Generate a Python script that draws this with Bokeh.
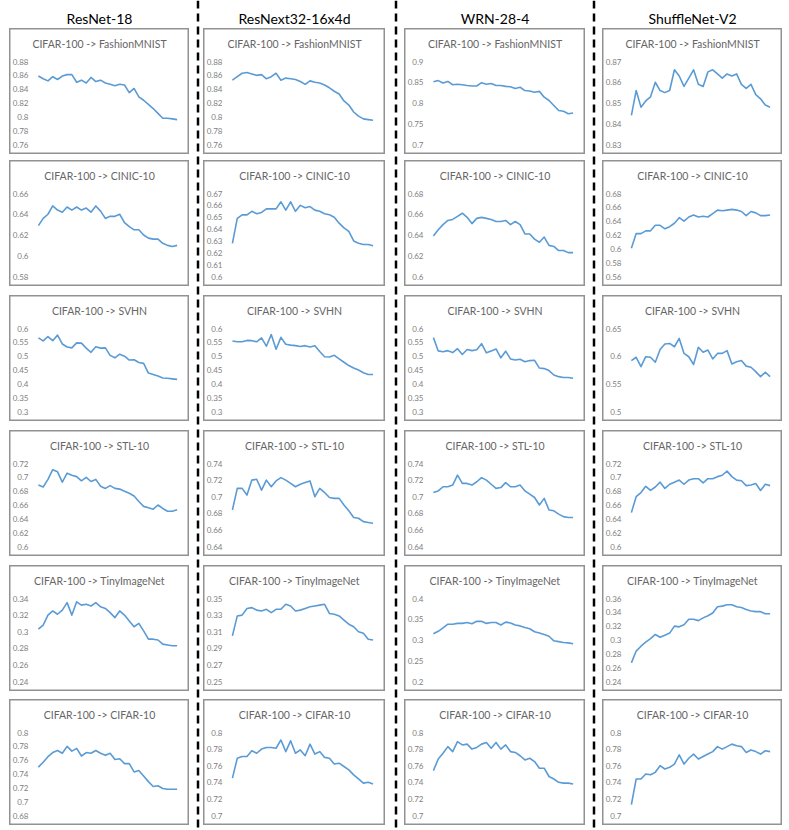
from bokeh.plotting import figure
from bokeh.layouts import row, column
from bokeh.models import (Spacer, Span, Label, FixedTicker, Range1d,
                          NumeralTickFormatter)
from bokeh.embed import file_html
from bokeh.resources import INLINE

models = ["ResNet-18", "ResNext32-16x4d", "WRN-28-4", "ShuffleNet-V2"]
targets = ["FashionMNIST", "CINIC-10", "SVHN", "STL-10", "TinyImageNet", "CIFAR-10"]
source_name = "CIFAR-100"
epochs = list(range(1, 31))

# ---- FashionMNIST ----
r18_fmnist = [0.859, 0.855, 0.852, 0.858, 0.854, 0.859, 0.861, 0.861, 0.850, 0.853,
              0.849, 0.857, 0.851, 0.853, 0.849, 0.847, 0.845, 0.847, 0.846, 0.835,
              0.841, 0.829, 0.824, 0.818, 0.812, 0.805, 0.798, 0.798, 0.797, 0.796]
rx_fmnist = [0.853, 0.858, 0.863, 0.864, 0.862, 0.860, 0.861, 0.855, 0.858, 0.863,
             0.853, 0.856, 0.855, 0.854, 0.851, 0.847, 0.852, 0.850, 0.849, 0.846,
             0.842, 0.837, 0.833, 0.823, 0.817, 0.807, 0.801, 0.797, 0.796, 0.795]
wrn_fmnist = [0.851, 0.854, 0.848, 0.852, 0.844, 0.845, 0.844, 0.842, 0.841, 0.841,
              0.849, 0.845, 0.847, 0.842, 0.842, 0.840, 0.839, 0.835, 0.838, 0.830,
              0.829, 0.826, 0.828, 0.814, 0.806, 0.794, 0.782, 0.780, 0.774, 0.776]
sn_fmnist = [0.844, 0.856, 0.848, 0.851, 0.853, 0.860, 0.856, 0.855, 0.856, 0.866,
             0.863, 0.858, 0.862, 0.866, 0.859, 0.858, 0.865, 0.866, 0.864, 0.862,
             0.864, 0.863, 0.864, 0.859, 0.857, 0.859, 0.854, 0.852, 0.849, 0.848]

# ---- CINIC-10 ----
r18_cinic = [0.629, 0.636, 0.640, 0.648, 0.644, 0.642, 0.647, 0.644, 0.647, 0.644,
             0.646, 0.642, 0.648, 0.643, 0.636, 0.638, 0.638, 0.640, 0.632, 0.628,
             0.625, 0.625, 0.620, 0.617, 0.616, 0.616, 0.612, 0.610, 0.609, 0.610]
rx_cinic = [0.628, 0.649, 0.652, 0.652, 0.655, 0.653, 0.654, 0.657, 0.657, 0.657,
            0.663, 0.656, 0.663, 0.655, 0.660, 0.658, 0.659, 0.656, 0.655, 0.653,
            0.652, 0.650, 0.645, 0.641, 0.638, 0.630, 0.628, 0.627, 0.627, 0.626]
wrn_cinic = [0.639, 0.645, 0.650, 0.654, 0.655, 0.658, 0.661, 0.657, 0.651, 0.656,
             0.657, 0.656, 0.655, 0.653, 0.653, 0.654, 0.650, 0.653, 0.650, 0.641,
             0.641, 0.636, 0.633, 0.638, 0.630, 0.629, 0.625, 0.625, 0.623, 0.623]
sn_cinic = [0.601, 0.622, 0.622, 0.626, 0.626, 0.634, 0.634, 0.629, 0.632, 0.637,
            0.645, 0.640, 0.646, 0.649, 0.646, 0.647, 0.646, 0.651, 0.656, 0.655,
            0.656, 0.657, 0.656, 0.654, 0.648, 0.654, 0.652, 0.648, 0.648, 0.649]

# ---- SVHN ----
r18_svhn = [0.566, 0.555, 0.571, 0.556, 0.576, 0.544, 0.533, 0.530, 0.548, 0.547,
            0.529, 0.514, 0.534, 0.529, 0.530, 0.503, 0.494, 0.507, 0.500, 0.486,
            0.487, 0.477, 0.474, 0.439, 0.434, 0.428, 0.421, 0.420, 0.418, 0.416]
rx_svhn = [0.555, 0.552, 0.552, 0.557, 0.556, 0.552, 0.566, 0.536, 0.578, 0.525,
           0.568, 0.543, 0.540, 0.538, 0.535, 0.538, 0.533, 0.538, 0.517, 0.498,
           0.497, 0.503, 0.490, 0.478, 0.466, 0.457, 0.450, 0.440, 0.434, 0.434]
wrn_svhn = [0.567, 0.519, 0.516, 0.520, 0.513, 0.527, 0.506, 0.524, 0.520, 0.523,
            0.545, 0.512, 0.519, 0.526, 0.494, 0.518, 0.490, 0.486, 0.489, 0.480,
            0.484, 0.485, 0.457, 0.455, 0.448, 0.432, 0.426, 0.423, 0.423, 0.420]
sn_svhn = [0.592, 0.598, 0.581, 0.599, 0.598, 0.589, 0.612, 0.622, 0.623, 0.617,
           0.632, 0.605, 0.599, 0.585, 0.616, 0.607, 0.611, 0.595, 0.605, 0.605,
           0.610, 0.586, 0.590, 0.592, 0.582, 0.580, 0.572, 0.563, 0.571, 0.563]

# ---- STL-10 ----
r18_stl = [0.689, 0.686, 0.697, 0.711, 0.708, 0.693, 0.706, 0.703, 0.701, 0.695,
           0.700, 0.694, 0.697, 0.687, 0.684, 0.688, 0.684, 0.683, 0.680, 0.677,
           0.673, 0.665, 0.658, 0.656, 0.654, 0.660, 0.655, 0.651, 0.651, 0.653]
rx_stl = [0.684, 0.710, 0.710, 0.702, 0.720, 0.721, 0.708, 0.720, 0.712, 0.719,
          0.723, 0.720, 0.716, 0.712, 0.715, 0.717, 0.719, 0.700, 0.710, 0.705,
          0.699, 0.698, 0.698, 0.690, 0.683, 0.675, 0.674, 0.670, 0.669, 0.668]
wrn_stl = [0.705, 0.707, 0.712, 0.712, 0.714, 0.726, 0.716, 0.716, 0.714, 0.718,
           0.723, 0.720, 0.715, 0.710, 0.711, 0.717, 0.712, 0.712, 0.714, 0.707,
           0.703, 0.699, 0.690, 0.698, 0.684, 0.683, 0.679, 0.676, 0.675, 0.675]
sn_stl = [0.649, 0.672, 0.678, 0.687, 0.681, 0.686, 0.693, 0.684, 0.690, 0.693,
          0.696, 0.690, 0.696, 0.698, 0.698, 0.692, 0.698, 0.698, 0.701, 0.703,
          0.709, 0.701, 0.696, 0.695, 0.688, 0.689, 0.691, 0.681, 0.690, 0.688]

# ---- TinyImageNet ----
r18_tiny = [0.303, 0.308, 0.320, 0.325, 0.321, 0.326, 0.335, 0.320, 0.336, 0.332,
            0.333, 0.331, 0.335, 0.330, 0.328, 0.323, 0.317, 0.325, 0.320, 0.313,
            0.306, 0.310, 0.301, 0.291, 0.291, 0.290, 0.285, 0.284, 0.283, 0.283]
rx_tiny = [0.305, 0.329, 0.330, 0.338, 0.339, 0.336, 0.335, 0.337, 0.333, 0.337,
           0.337, 0.343, 0.341, 0.335, 0.336, 0.338, 0.340, 0.341, 0.342, 0.343,
           0.332, 0.331, 0.329, 0.324, 0.319, 0.316, 0.310, 0.308, 0.301, 0.300]
wrn_tiny = [0.315, 0.321, 0.329, 0.338, 0.338, 0.340, 0.340, 0.342, 0.339, 0.345,
            0.345, 0.340, 0.342, 0.342, 0.336, 0.343, 0.341, 0.336, 0.334, 0.330,
            0.327, 0.320, 0.317, 0.313, 0.309, 0.298, 0.296, 0.294, 0.293, 0.291]
sn_tiny = [0.267, 0.284, 0.291, 0.297, 0.302, 0.308, 0.304, 0.307, 0.310, 0.320,
           0.319, 0.322, 0.330, 0.330, 0.328, 0.332, 0.335, 0.339, 0.348, 0.349,
           0.351, 0.351, 0.348, 0.347, 0.344, 0.342, 0.341, 0.341, 0.338, 0.338]

# ---- CIFAR-10 ----
r18_c10 = [0.750, 0.757, 0.765, 0.771, 0.774, 0.770, 0.780, 0.773, 0.777, 0.766,
           0.771, 0.770, 0.774, 0.770, 0.767, 0.770, 0.761, 0.762, 0.755, 0.755,
           0.743, 0.745, 0.737, 0.729, 0.722, 0.723, 0.719, 0.718, 0.718, 0.718]
rx_c10 = [0.745, 0.769, 0.771, 0.771, 0.778, 0.775, 0.780, 0.782, 0.782, 0.781,
          0.791, 0.777, 0.790, 0.775, 0.779, 0.772, 0.786, 0.774, 0.777, 0.770,
          0.769, 0.762, 0.763, 0.759, 0.755, 0.749, 0.744, 0.739, 0.740, 0.738]
wrn_c10 = [0.754, 0.768, 0.775, 0.783, 0.777, 0.789, 0.785, 0.786, 0.780, 0.782,
           0.786, 0.788, 0.781, 0.788, 0.780, 0.785, 0.777, 0.776, 0.772, 0.767,
           0.769, 0.765, 0.757, 0.757, 0.747, 0.744, 0.740, 0.739, 0.739, 0.738]
sn_c10 = [0.713, 0.744, 0.744, 0.750, 0.749, 0.752, 0.760, 0.756, 0.758, 0.762,
          0.773, 0.762, 0.769, 0.774, 0.768, 0.771, 0.774, 0.777, 0.783, 0.780,
          0.783, 0.786, 0.784, 0.783, 0.776, 0.779, 0.777, 0.774, 0.778, 0.777]

# y-axis bounds and tick step per panel (rows = targets, cols = models)
axis_min = [[0.76, 0.76, 0.70, 0.83],
            [0.58, 0.60, 0.60, 0.56],
            [0.30, 0.30, 0.30, 0.50],
            [0.60, 0.64, 0.64, 0.60],
            [0.24, 0.25, 0.20, 0.24],
            [0.68, 0.70, 0.70, 0.70]]
axis_max = [[0.88, 0.88, 0.90, 0.87],
            [0.66, 0.67, 0.68, 0.68],
            [0.60, 0.60, 0.60, 0.65],
            [0.72, 0.74, 0.74, 0.72],
            [0.34, 0.35, 0.40, 0.36],
            [0.80, 0.80, 0.80, 0.80]]
axis_step = [[0.02, 0.02, 0.05, 0.01],
             [0.02, 0.01, 0.02, 0.02],
             [0.05, 0.05, 0.05, 0.05],
             [0.02, 0.02, 0.02, 0.02],
             [0.02, 0.02, 0.05, 0.02],
             [0.02, 0.02, 0.02, 0.02]]

series = [
    [r18_fmnist, rx_fmnist, wrn_fmnist, sn_fmnist],
    [r18_cinic, rx_cinic, wrn_cinic, sn_cinic],
    [r18_svhn, rx_svhn, wrn_svhn, sn_svhn],
    [r18_stl, rx_stl, wrn_stl, sn_stl],
    [r18_tiny, rx_tiny, wrn_tiny, sn_tiny],
    [r18_c10, rx_c10, wrn_c10, sn_c10],
]

FONT = "Lato"
LINE_COLOR = "#5B9BD5"
BOX_COLOR = "#929292"
col_widths = [180, 182, 181, 180]
PANEL_H = 126
row_gaps = [6, 9, 9, 9, 8]
TOP_PAD = 8
HEADER_H = 20
SEP_H = 828

# plot area inside each box (pixels from the box edges)
AREA_TOP = 33
AREA_BOTTOM = 116
AREA_LEFT = 26.5
AREA_RIGHT_GAP = 10
TITLE_Y = 15
LABEL_RIGHT = 19


def make_panel(title, ys, lo, hi, step, w):
    n_cat = len(epochs)
    a_right = w - AREA_RIGHT_GAP
    cat_px = (a_right - AREA_LEFT) / n_cat
    x0 = 0.5 - AREA_LEFT / cat_px
    x1 = n_cat + 0.5 + AREA_RIGHT_GAP / cat_px
    val_px = (AREA_BOTTOM - AREA_TOP) / (hi - lo)
    y1 = hi + AREA_TOP / val_px
    y0 = lo - (PANEL_H - AREA_BOTTOM) / val_px

    p = figure(width=w, height=PANEL_H, x_range=Range1d(x0, x1),
               y_range=Range1d(y0, y1), x_axis_location=None,
               toolbar_location=None, output_backend="svg",
               min_border=0, outline_line_color=BOX_COLOR, outline_line_width=2,
               background_fill_color="white", border_fill_color="white")
    n = int(round((hi - lo) / step))
    ticks = [round(lo + k * step, 4) for k in range(n + 1)]
    p.yaxis.ticker = FixedTicker(ticks=ticks)
    p.yaxis.formatter = NumeralTickFormatter(format="0.[00]")
    p.yaxis.axis_line_color = None
    p.yaxis.major_tick_line_color = None
    p.yaxis.minor_tick_line_color = None
    p.yaxis.major_tick_out = 0
    p.yaxis.major_tick_in = 0
    p.yaxis.major_label_text_font = FONT
    p.yaxis.major_label_text_font_size = "8px"
    p.yaxis.major_label_text_color = "#808080"
    p.yaxis.major_label_standoff = -LABEL_RIGHT
    p.grid.visible = False
    p.line(epochs, ys, line_color=LINE_COLOR, line_width=1.6, line_join="round")
    p.add_layout(Label(x=(x0 + x1) / 2, y=y1 - TITLE_Y / val_px, text=title,
                       text_align="center", text_baseline="middle",
                       text_font=FONT, text_font_size="10.5px",
                       text_color="#666666"))
    return p


def make_header(text, w):
    h = figure(width=w, height=HEADER_H, x_range=Range1d(0, 1), y_range=Range1d(0, 1),
               x_axis_location=None, y_axis_location=None, toolbar_location=None,
               output_backend="svg", min_border=0, outline_line_color=None)
    h.grid.visible = False
    h.add_layout(Label(x=0.5, y=0.5, text=text, text_align="center",
                       text_baseline="middle", text_font=FONT,
                       text_font_size="14px", text_color="black"))
    return h


def make_separator():
    s = figure(width=7, height=SEP_H, x_range=Range1d(0, 1), y_range=Range1d(0, 1),
               x_axis_location=None, y_axis_location=None, toolbar_location=None,
               output_backend="svg", min_border=0, outline_line_color=None)
    s.grid.visible = False
    s.add_layout(Span(location=0.5, dimension="height", line_color="black",
                      line_width=2.5, line_dash="8 5"))
    return s


columns = []
for j, m in enumerate(models):
    items = [Spacer(width=col_widths[j], height=TOP_PAD), make_header(m, col_widths[j])]
    for i, t in enumerate(targets):
        if i > 0:
            items.append(Spacer(width=col_widths[j], height=row_gaps[i - 1]))
        items.append(make_panel(f"{source_name} -> {t}", series[i][j], axis_min[i][j],
                                axis_max[i][j], axis_step[i][j], col_widths[j]))
    columns.append(column(*items))

layout = row(
    Spacer(width=9, height=10), columns[0],
    Spacer(width=5, height=10), make_separator(), Spacer(width=2, height=10),
    columns[1],
    Spacer(width=7, height=10), make_separator(), Spacer(width=5, height=10),
    columns[2],
    Spacer(width=5, height=10), make_separator(), Spacer(width=5, height=10),
    columns[3],
)

open("out.html", "w").write(file_html(layout, INLINE))
